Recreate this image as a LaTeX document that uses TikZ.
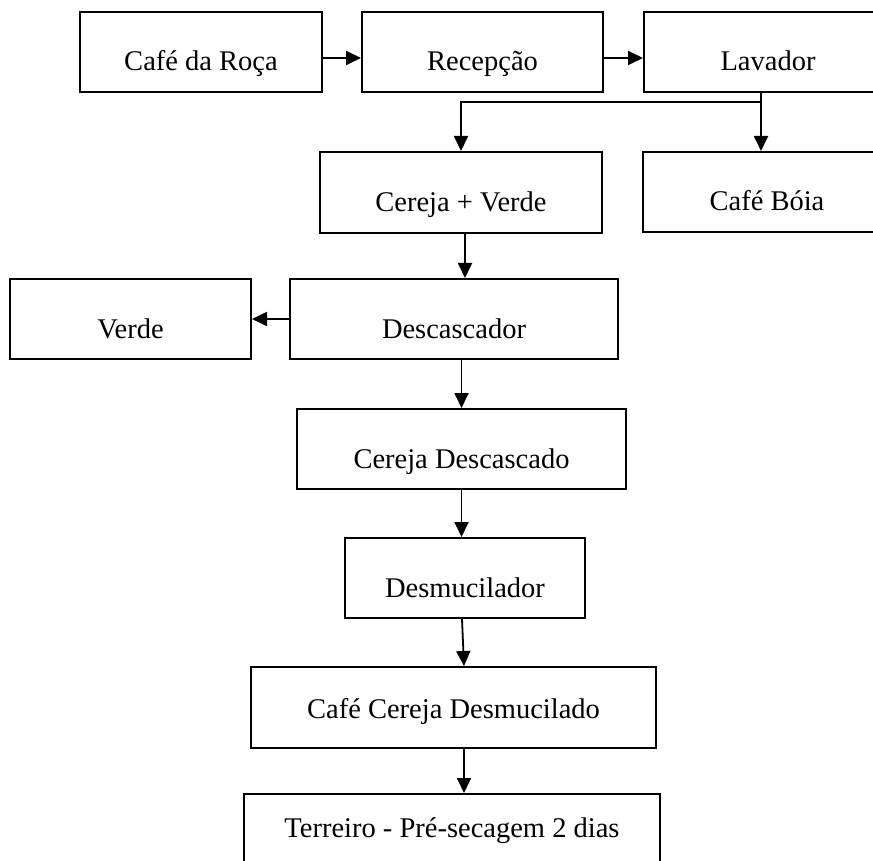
\documentclass[tikz,border=0pt]{standalone}
\usepackage{fontspec}
\setmainfont{Liberation Serif}
\usetikzlibrary{arrows.meta}
\tikzset{
  box/.style={draw, line width=2pt, inner sep=0pt, align=center,
    font=\fontsize{28.5pt}{32pt}\selectfont, text height=38pt, text depth=0pt},
  arr/.style={line width=1.8pt, -{Triangle[length=15pt,width=14pt]}}
}
\begin{document}
\begin{tikzpicture}[x=1pt, y=-1pt]
\clip (0,0) rectangle (873,861);
\fill[white] (0,0) rectangle (873,861);
\node[box, minimum width=242pt, minimum height=80pt] (cafe) at (201,52) {Café da Roça};
\node[box, minimum width=241pt, minimum height=80pt] (recep) at (482.5,52) {Recepção};
\node[box, minimum width=248pt, minimum height=80pt] (lav) at (768,52) {Lavador};
\node[box, minimum width=282pt, minimum height=81pt] (cv) at (461,192.5) {Cereja + Verde};
\node[box, minimum width=248pt, minimum height=80pt] (boia) at (767,192) {Café Bóia};
\node[box, minimum width=241pt, minimum height=80pt] (verde) at (130.5,319) {Verde};
\node[box, minimum width=328pt, minimum height=80pt] (desc) at (454,319) {Descascador};
\node[box, minimum width=329pt, minimum height=80pt] (cdesc) at (461.5,449) {Cereja Descascado};
\node[box, minimum width=240pt, minimum height=80pt] (desm) at (465,578) {Desmucilador};
\node[box, minimum width=405pt, minimum height=81pt, text height=21pt] (ccd) at (453.5,707.5) {Café Cereja Desmucilado};
\node[box, minimum width=416pt, minimum height=86pt, text height=0pt] (terr) at (452,837) {Terreiro - Pré-secagem 2 dias};
\coordinate (br) at (761,102);
\draw[arr] ([yshift=-6pt]cafe.east) -- ([yshift=-6pt]recep.west);
\draw[arr] ([yshift=-6pt]recep.east) -- ([yshift=-6pt]lav.west);
\draw[arr] (br |- lav.south) -- (br) -| (cv.north);
\draw[arr] (br) -- (br |- boia.north);
\draw[arr] ([xshift=4pt]cv.south) -- ([xshift=4pt]cv.south |- desc.north);
\draw[arr] (desc.west) -- (verde.east);
\draw[arr] (cdesc.north |- desc.south) -- (cdesc.north);
\draw[arr] (cdesc.south) -- (cdesc.south |- desm.north);
\draw[arr] ([xshift=-3pt]desm.south) -- ([xshift=10.5pt]ccd.north);
\draw[arr] ([xshift=10.5pt]ccd.south) -- ([xshift=10.5pt]ccd.south |- terr.north);
\end{tikzpicture}
\end{document}
